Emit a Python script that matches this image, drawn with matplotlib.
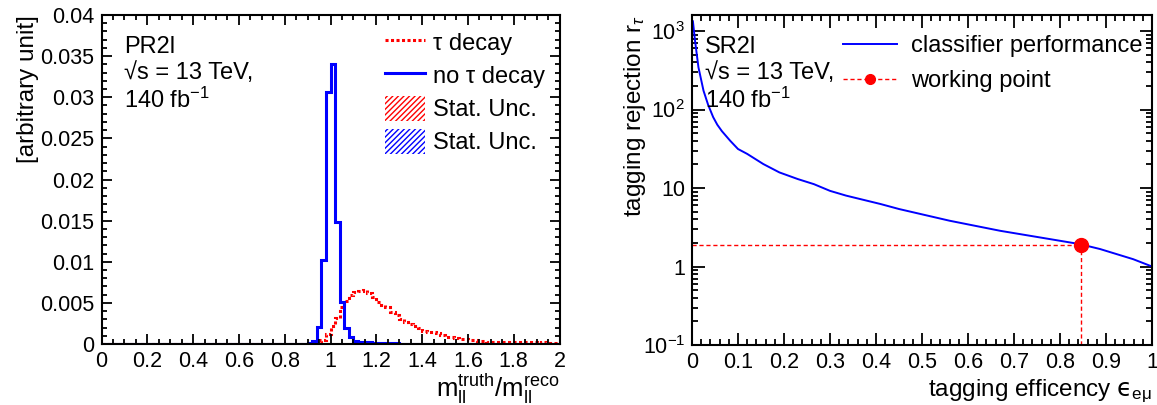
import matplotlib
matplotlib.use("Agg")
import matplotlib.pyplot as plt
import numpy as np
from matplotlib.lines import Line2D
from matplotlib.patches import Patch
from matplotlib.ticker import MultipleLocator, FuncFormatter, LogLocator, FixedLocator

plt.rcParams['font.family'] = ['Liberation Sans', 'DejaVu Sans']
plt.rcParams['mathtext.fontset'] = 'custom'
plt.rcParams['mathtext.rm'] = 'Liberation Sans'
plt.rcParams['mathtext.it'] = 'Liberation Sans:italic'
plt.rcParams['mathtext.sf'] = 'DejaVu Sans'
plt.rcParams['hatch.linewidth'] = 1.0

# m_ll truth / reco ratio, 0.02 wide bins starting at 0.88
bin_start = 0.88
bin_width = 0.02
tau_decay = [0.0, 0.0, 0.0001, 0.0002, 0.0005, 0.0012, 0.0022, 0.0032, 0.0045, 0.0052,
             0.0060, 0.0063, 0.0064, 0.0066, 0.0062, 0.0057, 0.0051, 0.0048, 0.0045, 0.0039,
             0.0035, 0.0030, 0.0027, 0.0024, 0.0022, 0.0019, 0.0016, 0.0015, 0.0015, 0.0013,
             0.0011, 0.0009, 0.0008, 0.0007, 0.0006, 0.0006, 0.0005, 0.0005, 0.0004, 0.0004,
             0.0003, 0.0003, 0.0003, 0.0003, 0.0003, 0.0002, 0.0003, 0.0002, 0.0002, 0.0002,
             0.0002, 0.0001, 0.0002, 0.0001, 0.0001, 0.0001]
no_tau_decay = [0.0, 0.0001, 0.0004, 0.0021, 0.0102, 0.0306, 0.0340, 0.0148, 0.0051, 0.0019,
                0.0008, 0.0004, 0.0003, 0.0002, 0.0002, 0.0001, 0.0001, 0.0001, 0.0001, 0.0001,
                0.0001, 0.00005, 0.00005, 0.00005, 0.00005, 0.0, 0.0, 0.0, 0.0, 0.0,
                0.0, 0.0, 0.0, 0.0, 0.0, 0.0, 0.0, 0.0, 0.0, 0.0,
                0.0, 0.0, 0.0, 0.0, 0.0, 0.0, 0.0, 0.0, 0.0, 0.0,
                0.0, 0.0, 0.0, 0.0, 0.0, 0.0]

# classifier ROC: efficiency vs rejection
efficiency = [0.002, 0.0065, 0.014, 0.025, 0.035, 0.046, 0.055, 0.065, 0.083, 0.10,
              0.12, 0.155, 0.19, 0.23, 0.265, 0.30, 0.335, 0.41, 0.45, 0.56,
              0.67, 0.843, 0.887, 0.959, 1.0]
rejection = [1330, 760, 345, 174, 115, 80, 64, 53, 40, 31.4,
             27.2, 20.2, 15.8, 13.0, 11.2, 9.2, 8.0, 6.25, 5.4, 3.83,
             2.85, 1.93, 1.67, 1.24, 1.0]
wp_eff = 0.845
wp_rej = 1.9

W, H = 1157, 405
fig = plt.figure(figsize=(W / 100, H / 100), dpi=100)
ax1 = fig.add_axes([101.5 / W, 61 / H, 458 / W, 329 / H])
ax2 = fig.add_axes([692 / W, 60 / H, 460 / W, 330 / H])

TICK = 15.5
TEXT = 17
LABEL = 17.5


def root_style(ax):
    for s in ax.spines.values():
        s.set_linewidth(1.5)
    ax.tick_params(which='both', direction='in', top=True, right=True, width=1.3,
                   labelsize=TICK)
    ax.tick_params(which='major', length=7.5)
    ax.tick_params(which='minor', length=3.8)
    ax.tick_params(axis='x', pad=5)
    ax.tick_params(axis='y', pad=5)


# left panel: ratio histograms
lead = int(round(bin_start / bin_width))
edges = np.round(np.arange(0, 2.0 + bin_width / 2, bin_width), 2)
red_vals = np.array([0.0] * lead + tau_decay)
blue_vals = np.array([0.0] * lead + no_tau_decay)
ax1.stairs(red_vals, edges, color='red', lw=2.2, linestyle=(0, (1.0, 0.8)))
ax1.stairs(blue_vals, edges, color='#0000ff', lw=2.2)
ax1.set_xlim(0, 2)
ax1.set_ylim(0, 0.04)
ax1.xaxis.set_major_locator(MultipleLocator(0.2))
ax1.xaxis.set_minor_locator(MultipleLocator(0.05))
ax1.yaxis.set_major_locator(MultipleLocator(0.005))
ax1.yaxis.set_minor_locator(MultipleLocator(0.001))
ax1.xaxis.set_major_formatter(FuncFormatter(lambda v, p: '%g' % round(v, 3)))
ax1.yaxis.set_major_formatter(FuncFormatter(lambda v, p: '%g' % round(v, 4)))
root_style(ax1)
ax1.set_ylabel('[arbitrary unit]', fontsize=LABEL, ha='right', y=1.0, labelpad=1)
ax1.set_xlabel(r'$\mathrm{m_{ll}^{truth}/m_{ll}^{reco}}$', fontsize=LABEL + 1, ha='right', x=1.0)
ax1.xaxis.set_label_coords(1.0, -0.085)

ax1.text(0.05, 0.935, 'PR2l\n√s = 13 TeV,\n140 fb$^{-1}$', transform=ax1.transAxes,
         fontsize=TEXT, va='top', ha='left', linespacing=1.2)

handles1 = [
    Line2D([], [], color='red', lw=2.2, linestyle=(0, (1.0, 0.8))),
    Line2D([], [], color='#0000ff', lw=2.2),
    Patch(facecolor='none', edgecolor='red', hatch='//////', lw=0),
    Patch(facecolor='none', edgecolor='#0000ff', hatch='//////', lw=0),
]
labels1 = ['τ decay', 'no τ decay', 'Stat. Unc.', 'Stat. Unc.']
ax1.legend(handles1, labels1, loc='upper left', bbox_to_anchor=(0.619, 0.955),
           frameon=False, fontsize=TEXT, handlelength=1.7, handleheight=1.25,
           handletextpad=0.35, labelspacing=0.32, borderaxespad=0, borderpad=0)

# right panel: rejection vs efficiency
ax2.plot(efficiency, rejection, color='#0000ff', lw=1.4)
ax2.plot([0, wp_eff], [wp_rej, wp_rej], color='red', lw=1.0, linestyle=(0, (3, 2)))
ax2.plot([wp_eff, wp_eff], [0.1, wp_rej], color='red', lw=1.0, linestyle=(0, (3, 2)))
ax2.plot([wp_eff], [wp_rej], 'o', color='red', ms=10, zorder=5)
ax2.set_yscale('log')
ax2.set_xlim(0, 1)
ax2.set_ylim(0.1, 1600)
ax2.xaxis.set_major_locator(MultipleLocator(0.1))
ax2.xaxis.set_minor_locator(MultipleLocator(0.02))
ax2.xaxis.set_major_formatter(FuncFormatter(lambda v, p: '%g' % round(v, 2)))
ax2.yaxis.set_major_locator(FixedLocator([0.1, 1, 10, 100, 1000]))
ax2.yaxis.set_minor_locator(LogLocator(base=10, subs=np.arange(2, 10), numticks=20))
ytxt = {0.1: r'$10^{-1}$', 1: '1', 10: '10', 100: r'$10^{2}$', 1000: r'$10^{3}$'}
ax2.yaxis.set_major_formatter(FuncFormatter(lambda v, p: ytxt.get(round(v, 1) if v < 1 else round(v), '')))
root_style(ax2)
ax2.tick_params(which='major', length=9)
ax2.tick_params(which='minor', length=4.5)
ax2.set_ylabel(r'tagging rejection r$_{\tau}$', fontsize=LABEL, ha='right', y=1.0, labelpad=-4)
ax2.set_xlabel('tagging efficency $\\mathsf{\u03f5}_{\\mathrm{e\\mu}}$', fontsize=LABEL, ha='right', x=1.0)
ax2.xaxis.set_label_coords(1.0, -0.1)

ax2.text(0.028, 0.935, 'SR2l\n√s = 13 TeV,\n140 fb$^{-1}$', transform=ax2.transAxes,
         fontsize=TEXT, va='top', ha='left', linespacing=1.2)

handles2 = [
    Line2D([], [], color='#0000ff', lw=1.4),
    Line2D([], [], color='red', lw=1.0, linestyle=(0, (3, 2)), marker='o', ms=7),
]
ax2.legend(handles2, ['classifier performance', 'working point'], loc='upper left',
           bbox_to_anchor=(0.328, 0.94), frameon=False, fontsize=TEXT,
           handlelength=2.3, handletextpad=0.6, labelspacing=0.55,
           borderaxespad=0, borderpad=0)

fig.savefig('out.png', dpi=100)
